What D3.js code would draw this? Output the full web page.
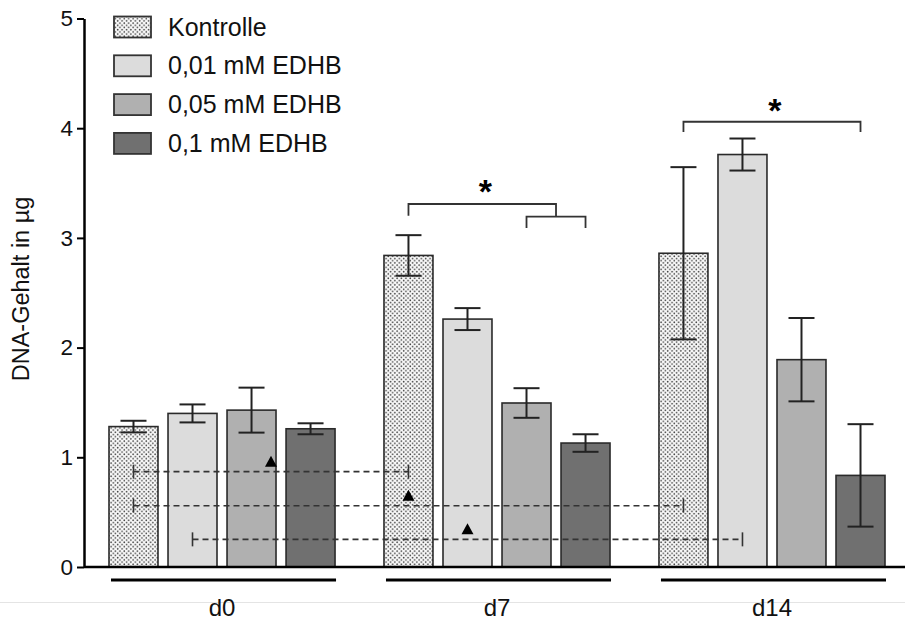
<!DOCTYPE html>
<html>
<head>
<meta charset="utf-8">
<script src="https://cdn.jsdelivr.net/npm/d3@7/dist/d3.min.js"></script>
<style>
  html, body { margin: 0; padding: 0; background: #fff; }
  svg { display: block; font-family: "Liberation Sans", Arial, sans-serif; }
</style>
</head>
<body>
<svg id="chart" width="905" height="621"></svg>
<script>
// ---- data ----
const groups = ["d0", "d7", "d14"];
const series = ["Kontrolle", "0,01 mM EDHB", "0,05 mM EDHB", "0,1 mM EDHB"];
const kontrolle = [1.28, 2.84, 2.86];
const edhb001 = [1.40, 2.26, 3.76];
const edhb005 = [1.43, 1.495, 1.89];
const edhb01 = [1.26, 1.13, 0.835];
const errKontrolle = [0.053, 0.185, 0.785];
const errEdhb001 = [0.082, 0.10, 0.146];
const errEdhb005 = [0.205, 0.135, 0.38];
const errEdhb01 = [0.05, 0.08, 0.467];
const yTicks = [0, 1, 2, 3, 4, 5];
// dashed comparison lines: [fromGroup, fromSeries, toGroup, toSeries, value]
const compLines = [
  ["d0", "Kontrolle", "d7", "Kontrolle", 0.869],
  ["d0", "Kontrolle", "d14", "Kontrolle", 0.559],
  ["d0", "0,01 mM EDHB", "d14", "0,01 mM EDHB", 0.252]
];
// significance brackets
const bracketD7 = { group: "d7", left: "Kontrolle", sub: ["0,05 mM EDHB", "0,1 mM EDHB"], top: 3.309, legBottom: 3.202, subTop: 3.194, subLegBottom: 3.09 };
const bracketD14 = { group: "d14", left: "Kontrolle", right: "0,1 mM EDHB", top: 4.059, legBottom: 3.965 };

const values = [kontrolle, edhb001, edhb005, edhb01];
const errors = [errKontrolle, errEdhb001, errEdhb005, errEdhb01];
const fills = ["url(#dots)", "#dcdcdc", "#b0b0b0", "#707070"];

// ---- scales ----
const svg = d3.select("#chart");
const y = d3.scaleLinear().domain([0, 5]).range([567, 18.5]);
const x0 = d3.scaleBand().domain(groups).range([109, 885]).paddingInner(0.178).paddingOuter(0);
const x1 = d3.scaleBand().domain(series).range([0, x0.bandwidth()]).paddingInner(0.17).paddingOuter(0);
const cx = (g, s) => x0(g) + x1(s) + x1.bandwidth() / 2;

// pattern
const defs = svg.append("defs");
const pat = defs.append("pattern").attr("id", "dots").attr("patternUnits", "userSpaceOnUse")
  .attr("width", 4.4).attr("height", 4.4);
pat.append("rect").attr("width", 4.4).attr("height", 4.4).attr("fill", "#fafafa");
pat.append("circle").attr("cx", 1.1).attr("cy", 1.1).attr("r", 0.85).attr("fill", "#444");
pat.append("circle").attr("cx", 3.3).attr("cy", 3.3).attr("r", 0.85).attr("fill", "#444");

// faint bottom line
svg.append("line").attr("x1", 0).attr("x2", 905).attr("y1", 602.5).attr("y2", 602.5)
  .attr("stroke", "#e4e4e4").attr("stroke-width", 1);

// bars
const rows = [];
groups.forEach((g, gi) => series.forEach((s, si) => rows.push({ g, s, si, v: values[si][gi], e: errors[si][gi] })));

svg.append("g").selectAll("rect").data(rows).join("rect")
  .attr("x", d => x0(d.g) + x1(d.s))
  .attr("y", d => y(d.v))
  .attr("width", x1.bandwidth())
  .attr("height", d => y(0) - y(d.v))
  .attr("fill", d => fills[d.si])
  .attr("stroke", "#2a2a2a").attr("stroke-width", 1.6);

// error bars
const eb = svg.append("g").attr("stroke", "#222").attr("stroke-width", 2).attr("fill", "none");
rows.forEach(d => {
  const c = cx(d.g, d.s);
  eb.append("line").attr("x1", c).attr("x2", c).attr("y1", y(d.v + d.e)).attr("y2", y(d.v - d.e));
  [d.v + d.e, d.v - d.e].forEach(v => {
    eb.append("line").attr("x1", c - 13).attr("x2", c + 13).attr("y1", y(v)).attr("y2", y(v));
  });
});

// dashed comparison lines with triangles
const cl = svg.append("g");
compLines.forEach(([g1, s1, g2, s2, v]) => {
  const xa = cx(g1, s1), xb = cx(g2, s2), yy = y(v);
  cl.append("line").attr("x1", xa).attr("x2", xb).attr("y1", yy).attr("y2", yy)
    .attr("stroke", "#333").attr("stroke-width", 1.6).attr("stroke-dasharray", "6,4");
  [xa, xb].forEach(xx => cl.append("line").attr("x1", xx).attr("x2", xx).attr("y1", yy - 7).attr("y2", yy + 7)
    .attr("stroke", "#333").attr("stroke-width", 1.6));
  const mx = (xa + xb) / 2;
  cl.append("path").attr("d", `M${mx - 6},${yy - 5}L${mx + 6},${yy - 5}L${mx},${yy - 16}Z`).attr("fill", "#000");
});

// brackets
const br = svg.append("g").attr("stroke", "#333").attr("stroke-width", 1.8).attr("fill", "none");
{
  const b = bracketD7;
  const xl = cx(b.group, b.left);
  const xs1 = cx(b.group, b.sub[0]), xs2 = cx(b.group, b.sub[1]);
  const xr = (xs1 + xs2) / 2;
  br.append("path").attr("d", `M${xl},${y(b.legBottom)}V${y(b.top)}H${xr}V${y(b.subTop)}`);
  br.append("path").attr("d", `M${xs1},${y(b.subLegBottom)}V${y(b.subTop)}H${xs2}V${y(b.subLegBottom)}`);
  svg.append("text").attr("x", (xl + xr) / 2 + 3).attr("y", y(b.top) - 1).attr("text-anchor", "middle")
    .attr("font-size", 34).attr("font-weight", "bold").text("*");
}
{
  const b = bracketD14;
  const xl = cx(b.group, b.left), xr = cx(b.group, b.right);
  br.append("path").attr("d", `M${xl},${y(b.legBottom)}V${y(b.top)}H${xr}V${y(b.legBottom)}`);
  svg.append("text").attr("x", (xl + xr) / 2 + 3).attr("y", y(b.top) + 0).attr("text-anchor", "middle")
    .attr("font-size", 34).attr("font-weight", "bold").text("*");
}

// x baseline
svg.append("line").attr("x1", 84).attr("x2", 905).attr("y1", y(0)).attr("y2", y(0))
  .attr("stroke", "#000").attr("stroke-width", 2.5);

// y axis
const yAxis = svg.append("g").attr("transform", "translate(84,0)")
  .call(d3.axisLeft(y).tickValues(yTicks).tickSize(7).tickSizeOuter(0).tickPadding(4).tickFormat(d3.format("d")));
yAxis.select(".domain").attr("stroke", "#000").attr("stroke-width", 2.5);
yAxis.selectAll(".tick line").attr("stroke", "#000").attr("stroke-width", 2);
yAxis.selectAll(".tick text").attr("font-size", 22.5).attr("fill", "#111")
  .attr("font-family", "'Liberation Sans', Arial, sans-serif");

// y title
svg.append("text").attr("transform", "translate(29,289) rotate(-90)").attr("text-anchor", "middle")
  .attr("font-size", 23.5).attr("fill", "#111").text("DNA-Gehalt in µg");

// group underlines and labels
const gx = svg.append("g");
groups.forEach(g => {
  gx.append("line").attr("x1", x0(g) + 2).attr("x2", x0(g) + x0.bandwidth() + 1).attr("y1", 580).attr("y2", 580)
    .attr("stroke", "#000").attr("stroke-width", 3);
  gx.append("text").attr("x", x0(g) + x0.bandwidth() / 2).attr("y", 616).attr("text-anchor", "middle")
    .attr("font-size", 24).attr("fill", "#111").text(g);
});

// legend
const leg = svg.append("g");
series.forEach((s, i) => {
  const cy = 27 + i * 38.8;
  leg.append("rect").attr("x", 114).attr("y", cy - 10.5).attr("width", 37).attr("height", 21)
    .attr("fill", fills[i]).attr("stroke", "#333").attr("stroke-width", 1.8);
  leg.append("text").attr("x", 168).attr("y", cy + 8.5).attr("font-size", 25).attr("fill", "#111").text(s);
});
</script>
</body>
</html>
